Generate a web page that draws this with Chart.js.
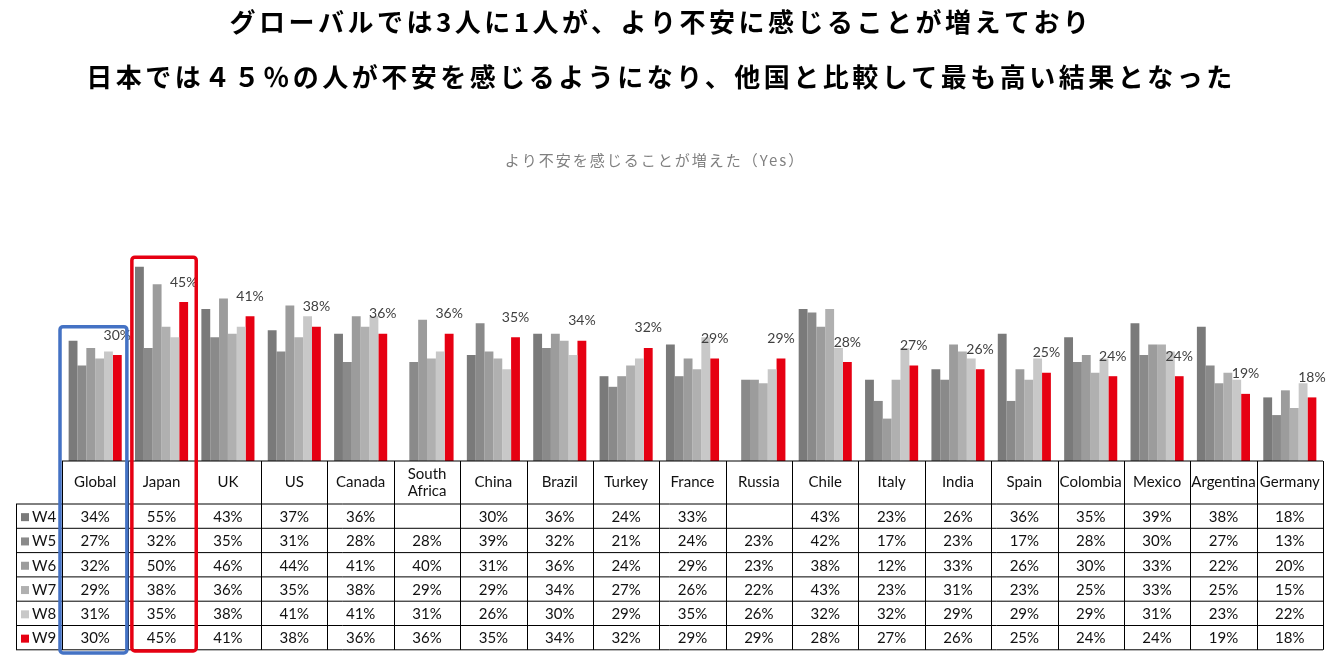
<!DOCTYPE html>
<html lang="ja">
<head>
  <meta charset="UTF-8">
  <title>より不安を感じることが増えた</title>
  <style>
    body {
      margin: 0;
      background: #fff;
    }
    #wrap {
      width: 1334px;
      height: 662px;
      position: relative;
    }
  </style>
  <script src="https://cdn.jsdelivr.net/npm/chart.js"></script>
</head>
<body>
  <div id="wrap">
    <canvas id="anxietyChart"></canvas>
  </div>

  <script>
    // categories and wave values (%)
    const categories = ['Global', 'Japan', 'UK', 'US', 'Canada', 'South\nAfrica', 'China', 'Brazil', 'Turkey',
      'France', 'Russia', 'Chile', 'Italy', 'India', 'Spain', 'Colombia', 'Mexico', 'Argentina', 'Germany'];
    const waveNames = ['W4', 'W5', 'W6', 'W7', 'W8', 'W9'];
    const w4 = [34, 55, 43, 37, 36, null, 30, 36, 24, 33, null, 43, 23, 26, 36, 35, 39, 38, 18];
    const w5 = [27, 32, 35, 31, 28, 28, 39, 32, 21, 24, 23, 42, 17, 23, 17, 28, 30, 27, 13];
    const w6 = [32, 50, 46, 44, 41, 40, 31, 36, 24, 29, 23, 38, 12, 33, 26, 30, 33, 22, 20];
    const w7 = [29, 38, 36, 35, 38, 29, 29, 34, 27, 26, 22, 43, 23, 31, 23, 25, 33, 25, 15];
    const w8 = [31, 35, 38, 41, 41, 31, 26, 30, 29, 35, 26, 32, 32, 29, 29, 29, 31, 23, 22];
    const w9 = [30, 45, 41, 38, 36, 36, 35, 34, 32, 29, 29, 28, 27, 26, 25, 24, 24, 19, 18];
    const waveColors = ['#7a7a7a', '#8a8a8a', '#9c9c9c', '#b0b0b0', '#c8c8c8', '#e60012'];

    const titleLines = [
      'グローバルでは3人に1人が、より不安に感じることが増えており',
      '日本では４５％の人が不安を感じるようになり、他国と比較して最も高い結果となった'
    ];
    const subTitle = 'より不安を感じることが増えた（Yes）';

    const allWaves = [w4, w5, w6, w7, w8, w9];

    const headerTop = 461;
    const headerBottom = 504;
    const rowH = 24.3;
    const tableFont = '15px Lato, "Noto Sans", sans-serif';

    // everything that is not a bar: titles, W9 labels, data table, highlight boxes
    const extrasPlugin = {
      id: 'extras',
      afterDraw(chart) {
        const ctx = chart.ctx;
        const x = chart.scales.x;
        const y = chart.scales.y;
        const colW = (chart.chartArea.right - chart.chartArea.left) / categories.length;
        const colLeft = i => x.getPixelForValue(i) - colW / 2;

        ctx.save();

        // titles
        ctx.textAlign = 'center';
        ctx.textBaseline = 'middle';
        ctx.fillStyle = '#000';
        ctx.font = 'bold 26px "Noto Sans CJK JP", sans-serif';
        if ('letterSpacing' in ctx) ctx.letterSpacing = '3.5px';
        ctx.fillText(titleLines[0], 661, 22);
        ctx.fillText(titleLines[1], 661, 77);
        ctx.fillStyle = '#7f7f7f';
        ctx.font = '15px "Noto Sans CJK JP", sans-serif';
        if ('letterSpacing' in ctx) ctx.letterSpacing = '2px';
        ctx.fillText(subTitle, 655, 160);
        if ('letterSpacing' in ctx) ctx.letterSpacing = '0px';

        // value labels above the W9 bars
        const meta = chart.getDatasetMeta(5);
        ctx.fillStyle = '#404040';
        ctx.font = '14px Lato, "Noto Sans", sans-serif';
        meta.data.forEach((bar, i) => {
          if (w9[i] == null) return;
          ctx.fillText(w9[i] + '%', bar.x, bar.y - 20);
        });

        // data table
        const tLeft = colLeft(0);
        const tRight = colLeft(categories.length);
        const tBottom = headerBottom + rowH * waveNames.length;
        const legLeft = 16;
        ctx.strokeStyle = '#000';
        ctx.lineWidth = 1;
        ctx.beginPath();
        ctx.moveTo(tLeft, headerTop); ctx.lineTo(tRight, headerTop);
        ctx.moveTo(legLeft, headerBottom); ctx.lineTo(tRight, headerBottom);
        for (let r = 1; r <= waveNames.length; r++) {
          const yy = headerBottom + rowH * r;
          ctx.moveTo(legLeft, yy); ctx.lineTo(tRight, yy);
        }
        for (let c = 0; c <= categories.length; c++) {
          const xx = Math.round(colLeft(c)) + 0.5;
          ctx.moveTo(xx, headerTop); ctx.lineTo(xx, tBottom);
        }
        ctx.moveTo(legLeft + 0.5, headerBottom); ctx.lineTo(legLeft + 0.5, tBottom);
        ctx.stroke();

        ctx.fillStyle = '#111';
        ctx.font = tableFont;
        categories.forEach((name, c) => {
          const cx = x.getPixelForValue(c);
          const parts = name.split('\n');
          const midY = (headerTop + headerBottom) / 2;
          parts.forEach((p, k) => {
            ctx.fillText(p, cx, midY + (k - (parts.length - 1) / 2) * 17);
          });
          allWaves.forEach((vals, r) => {
            if (vals[c] == null) return;
            ctx.fillText(vals[c] + '%', cx, headerBottom + rowH * r + rowH / 2 + 1);
          });
        });

        // legend column
        waveNames.forEach((w, r) => {
          const cy = headerBottom + rowH * r + rowH / 2;
          ctx.fillStyle = waveColors[r];
          ctx.fillRect(21, cy - 3, 8, 8);
          ctx.save();
          ctx.beginPath();
          ctx.rect(legLeft, cy - rowH / 2, tLeft - legLeft - 1, rowH);
          ctx.clip();
          ctx.fillStyle = '#111';
          ctx.textAlign = 'left';
          ctx.fillText(w, 32, cy + 1);
          ctx.restore();
        });

        // highlight boxes around Global and Japan
        const box = (l, r, topVal, bottom, color) => {
          ctx.strokeStyle = color;
          ctx.lineWidth = 3.5;
          ctx.beginPath();
          ctx.roundRect(l, y.getPixelForValue(topVal), r - l, bottom - y.getPixelForValue(topVal), 3);
          ctx.stroke();
        };
        box(colLeft(0) - 2, colLeft(1) - 1.5, 38, 653, '#4472c4');
        box(colLeft(1) + 3.5, colLeft(2) + 1.5, 57.7, 651, '#e60012');

        ctx.restore();
      }
    };

    new Chart(document.getElementById('anxietyChart'), {
      type: 'bar',
      data: {
        labels: categories,
        datasets: allWaves.map((vals, i) => ({
          label: waveNames[i],
          data: vals,
          backgroundColor: waveColors[i],
          borderWidth: 0,
          categoryPercentage: 0.8,
          barPercentage: 1.0
        }))
      },
      options: {
        responsive: true,
        maintainAspectRatio: false,
        animation: false,
        layout: {
          padding: { left: 62, right: 11, top: 249, bottom: 201 }
        },
        scales: {
          x: { display: false },
          y: { display: false, min: 0, max: 60 }
        },
        plugins: {
          legend: { display: false },
          tooltip: { enabled: false }
        }
      },
      plugins: [extrasPlugin]
    });
  </script>
</body>
</html>
